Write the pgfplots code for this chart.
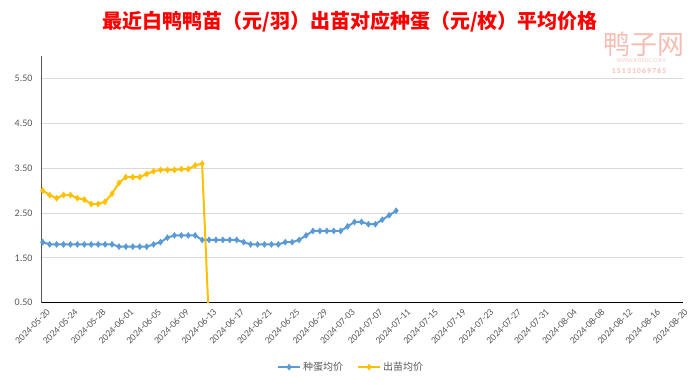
\documentclass[border=0pt]{standalone}
\usepackage{fontspec}
\usepackage{pgfplots}
\pgfplotsset{compat=1.18}
\setmainfont{Carlito}
\newfontfamily\cjk{Noto Sans CJK SC}
\definecolor{eggblue}{HTML}{5B9BD5}
\definecolor{chickyel}{HTML}{FFC000}
\definecolor{tickgray}{HTML}{595959}
\definecolor{gridgray}{HTML}{D9D9D9}
\definecolor{wmpink}{HTML}{F6BDB5}
\begin{document}
\begin{tikzpicture}[x=1pt,y=1pt]
\path (0,0) rectangle (700,384);
\node[font=\cjk\bfseries\fontsize{20}{24}\selectfont, text=red] at (350,362) {最近白鸭鸭苗（元/羽）出苗对应种蛋（元/枚）平均价格};
\node[font=\cjk\fontsize{27}{30}\selectfont, text=wmpink] at (644,340) {鸭子网};
\node[font=\fontsize{6}{7}\selectfont, text=wmpink!80] at (641,323) {WWW.INTEDC.COM};
\node[font=\bfseries\fontsize{7.5}{8}\selectfont, text=wmpink] at (639,313) {1\,5\,1\,3\,1\,0\,6\,9\,7\,6\,5};
\begin{axis}[
  at={(41pt,81.3pt)}, anchor=south west, scale only axis,
  width=642pt, height=246.7pt,
  xmin=-0.25, xmax=92.4, ymin=0.5, ymax=6,
  ytick={0.5,1.5,2.5,3.5,4.5,5.5},
  /pgf/number format/fixed, /pgf/number format/fixed zerofill, /pgf/number format/precision=2,
  /pgf/number format/assume math mode=true,
  y tick label style={font=\fontsize{10}{12}\selectfont, text=tickgray, xshift=-5pt},
  ymajorgrids, grid style={gridgray, line width=0.8pt},
  xtick={0,4,...,92},
  xticklabels={2024-05-20,2024-05-24,2024-05-28,2024-06-01,2024-06-05,2024-06-09,2024-06-13,2024-06-17,2024-06-21,2024-06-25,2024-06-29,2024-07-03,2024-07-07,2024-07-11,2024-07-15,2024-07-19,2024-07-23,2024-07-27,2024-07-31,2024-08-04,2024-08-08,2024-08-12,2024-08-16,2024-08-20},
  x tick label style={rotate=45, anchor=north east, font=\fontsize{9.6}{11}\selectfont, text=tickgray, yshift=-3pt, xshift=2pt},
  major tick length=0pt,
  axis x line=bottom, axis y line=left,
  x axis line style={-, black, line width=1pt},
  y axis line style={-, tickgray, line width=1pt},
  legend style={at={(0.483,-0.261)}, anchor=center, draw=none, fill=none,
    font=\cjk\fontsize{10}{12}\selectfont, text=tickgray,
    /tikz/every even column/.append style={column sep=12pt}},
  legend columns=2,
  legend image code/.code={\draw[mark repeat=2,mark phase=2] plot coordinates {(0pt,0pt)(11pt,0pt)(22pt,0pt)};},
]
\addplot[eggblue, line width=2pt, mark=diamond*, mark size=1.8pt, mark options={solid}] coordinates {
(0,1.85)(1,1.80)(2,1.80)(3,1.80)(4,1.80)(5,1.80)(6,1.80)(7,1.80)(8,1.80)(9,1.80)(10,1.80)
(11,1.75)(12,1.75)(13,1.75)(14,1.75)(15,1.75)(16,1.80)(17,1.85)(18,1.95)(19,2.00)(20,2.00)
(21,2.00)(22,2.00)(23,1.90)(24,1.90)(25,1.90)(26,1.90)(27,1.90)(28,1.90)(29,1.85)(30,1.80)
(31,1.80)(32,1.80)(33,1.80)(34,1.80)(35,1.85)(36,1.85)(37,1.90)(38,2.00)(39,2.10)(40,2.10)
(41,2.10)(42,2.10)(43,2.10)(44,2.20)(45,2.30)(46,2.30)(47,2.25)(48,2.25)(49,2.35)(50,2.45)
(51,2.55)};
\addlegendentry{种蛋均价}
\addplot[chickyel, line width=2pt, mark=diamond*, mark size=1.8pt, mark options={solid}] coordinates {
(0,3.00)(1,2.90)(2,2.83)(3,2.90)(4,2.90)(5,2.83)(6,2.80)(7,2.70)(8,2.70)(9,2.75)(10,2.93)
(11,3.17)(12,3.30)(13,3.30)(14,3.30)(15,3.37)(16,3.43)(17,3.46)(18,3.46)(19,3.46)(20,3.48)
(21,3.48)(22,3.56)(23,3.60)(24,0)};
\addlegendentry{出苗均价}
\end{axis}
\end{tikzpicture}
\end{document}
